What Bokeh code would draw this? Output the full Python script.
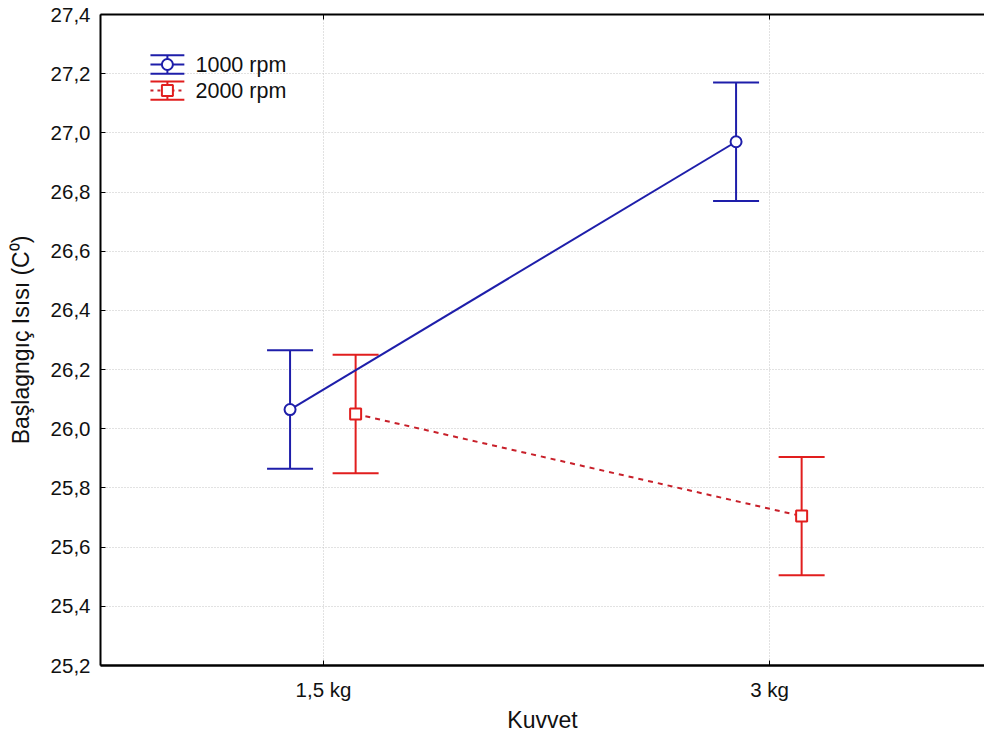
from bokeh.plotting import figure
from bokeh.models import (ColumnDataSource, Whisker, TeeHead, FixedTicker,
                          CustomJSTickFormatter, LinearAxis, Range1d)
from bokeh.transform import dodge
from bokeh.core.properties import value
from bokeh.embed import file_html
from bokeh.resources import INLINE

# ---------------- data ----------------
categories = ["1,5 kg", "3 kg"]
series_names = ["1000 rpm", "2000 rpm"]
mean_1000 = [26.065, 26.97]
upper_1000 = [26.265, 27.17]
lower_1000 = [25.865, 26.77]
mean_2000 = [26.05, 25.705]
upper_2000 = [26.25, 25.905]
lower_2000 = [25.85, 25.505]
y_ticks = [25.2, 25.4, 25.6, 25.8, 26.0, 26.2, 26.4, 26.6, 26.8, 27.0, 27.2, 27.4]
x_title = "Kuvvet"
y_title = "Başlagngıç Isısı (C⁰)"

# ---------------- style ----------------
BLUE = "#1e1eaa"
RED = "#e11e1e"
RED_LINE = "#c8202a"
FONT = "Liberation Sans"
TICK_SIZE = "20.5px"
TITLE_SIZE = "23px"
OFFSETS = [-0.075, 0.072]

xpos = list(range(len(categories)))

p = figure(frame_width=884, frame_height=651,
           x_range=Range1d(-0.5, 1.482), y_range=Range1d(25.2, 27.4),
           output_backend="svg", toolbar_location=None,
           min_border_left=100, min_border_top=14, min_border_right=0,
           min_border_bottom=10, background_fill_color="white",
           border_fill_color="white", outline_line_color=None)

# axes
xa = p.xaxis[0]
xa.ticker = FixedTicker(ticks=xpos)
xa.major_label_overrides = {i: c for i, c in enumerate(categories)}
xa.axis_label = x_title
ya = p.yaxis[0]
ya.ticker = FixedTicker(ticks=y_ticks)
ya.formatter = CustomJSTickFormatter(code="return tick.toFixed(1).replace('.', ',');")
ya.axis_label = y_title
for ax in (xa, ya):
    ax.major_tick_in = 5
    ax.major_tick_out = 0
    ax.minor_tick_line_color = None
    ax.axis_line_color = "black"
    ax.major_tick_line_color = "black"
    ax.major_label_text_font = FONT
    ax.major_label_text_font_size = TICK_SIZE
    ax.major_label_text_color = "#111111"
    ax.axis_label_text_font = FONT
    ax.axis_label_text_font_size = TITLE_SIZE
    ax.axis_label_text_font_style = "normal"
    ax.axis_label_text_color = "#111111"
xa.axis_line_width = 2.5
ya.axis_line_width = 2
xa.major_label_standoff = 12
xa.axis_label_standoff = 3
ya.major_label_standoff = 10
ya.axis_label_standoff = 14

top = LinearAxis(ticker=FixedTicker(ticks=xpos),
                 formatter=CustomJSTickFormatter(code="return '';"),
                 major_tick_in=5, major_tick_out=0, minor_tick_line_color=None,
                 axis_line_width=2, major_label_standoff=0)
p.add_layout(top, "above")

# grid
p.xgrid.ticker = FixedTicker(ticks=xpos)
p.ygrid.ticker = FixedTicker(ticks=y_ticks)
for g in (p.xgrid, p.ygrid):
    g.grid_line_color = "#c4c4c4"
    g.grid_line_dash = "1 2"
    g.grid_line_width = 1

# series
series = [
    (series_names[0], mean_1000, upper_1000, lower_1000, BLUE, BLUE, "solid", "circle", OFFSETS[0]),
    (series_names[1], mean_2000, upper_2000, lower_2000, RED, RED_LINE, "5 5", "square", OFFSETS[1]),
]
for name, m, u, l, col, lcol, dash, marker, off in series:
    src = ColumnDataSource(dict(x=xpos, mean=m, upper=u, lower=l))
    w = Whisker(source=src, base=dodge("x", off), upper="upper", lower="lower",
                dimension="height", line_color=col, line_width=2, level="underlay",
                upper_head=TeeHead(size=46, line_color=col, line_width=2),
                lower_head=TeeHead(size=46, line_color=col, line_width=2))
    p.add_layout(w)
    p.line(x=dodge("x", off), y="mean", source=src, line_color=lcol,
           line_width=2, line_dash=dash)
    p.scatter(x=dodge("x", off), y="mean", source=src, marker=marker, size=11,
              fill_color="white", line_color=col, line_width=2)

# manual legend (top-left, data coordinates)
LEG_X0, LEG_X1, LEG_XC, LEG_TX = -0.388, -0.312, -0.350, -0.287
LEG_Y = [27.231, 27.143]
LEG_CAP = 0.031
for (name, m, u, l, col, lcol, dash, marker, off), yc in zip(series, LEG_Y):
    p.segment(x0=[LEG_X0, LEG_X0], x1=[LEG_X1, LEG_X1], y0=[yc + LEG_CAP, yc - LEG_CAP],
              y1=[yc + LEG_CAP, yc - LEG_CAP], line_color=col, line_width=2)
    p.segment(x0=[LEG_XC], x1=[LEG_XC], y0=[yc - LEG_CAP], y1=[yc + LEG_CAP],
              line_color=col, line_width=2)
    p.segment(x0=[LEG_X0], x1=[LEG_X1], y0=[yc], y1=[yc], line_color=lcol,
              line_width=2, line_dash="3 4" if dash != "solid" else "solid")
    p.scatter(x=[LEG_XC], y=[yc], marker=marker, size=11, fill_color="white",
              line_color=col, line_width=2)
    p.text(x=[LEG_TX], y=[yc], text=[name], text_font=value(FONT),
           text_font_size="21.5px", text_baseline="middle", text_color="#111111")

open("out.html", "w").write(file_html(p, INLINE))
